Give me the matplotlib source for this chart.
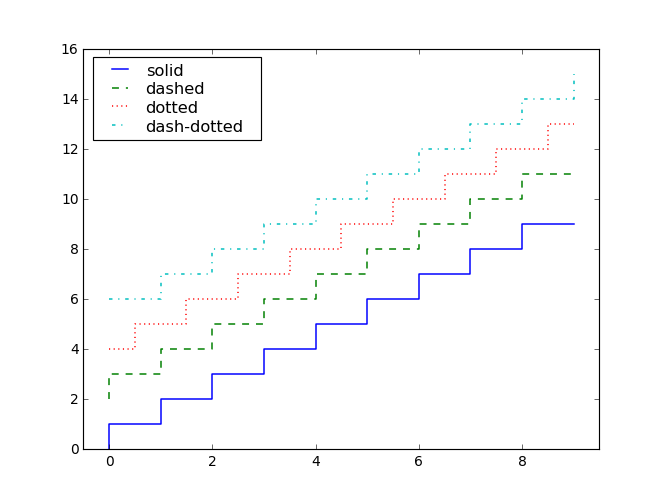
import numpy as np
import matplotlib
matplotlib.use("Agg")
import matplotlib.pyplot as plt
from matplotlib.legend_handler import HandlerLine2D

plt.style.use("classic")

x = np.arange(10)
y_solid = np.arange(0, 10)
y_dashed = np.arange(2, 12)
y_dotted = np.arange(4, 14)
y_dashdot = np.arange(6, 16)

labels = ["solid", "dashed", "dotted", "dash-dotted"]

fig = plt.figure(figsize=(8, 6.006), dpi=83.25)
ax = fig.add_subplot(111)

lw = 1.3
lines = []
lines += ax.plot(x, y_solid, "b-", lw=lw, drawstyle="steps-pre", label=labels[0])
lines += ax.plot(x, y_dashed, "g--", lw=lw, drawstyle="steps-pre", label=labels[1])
lines += ax.plot(x, y_dotted, "r:", lw=lw, drawstyle="steps-mid", label=labels[2])
lines += ax.plot(x, y_dashdot, "c-.", lw=lw, drawstyle="steps-post", label=labels[3])

ax.set_xlim(-0.5, 9.5)
ax.set_ylim(0, 16)

# legende compacta como en la version vieja
hmap = {ln: HandlerLine2D(xpad=0.5) for ln in lines}
ax.legend(loc="upper left", prop={"size": 14}, labelspacing=0.23,
          borderpad=0.35, handlelength=2.1, handletextpad=0.8,
          borderaxespad=0.0, mode="expand",
          bbox_to_anchor=(0.0189, 0.98, 0.3256, 0.0),
          handler_map=hmap)

fig.savefig("out.png", dpi=83.25)
